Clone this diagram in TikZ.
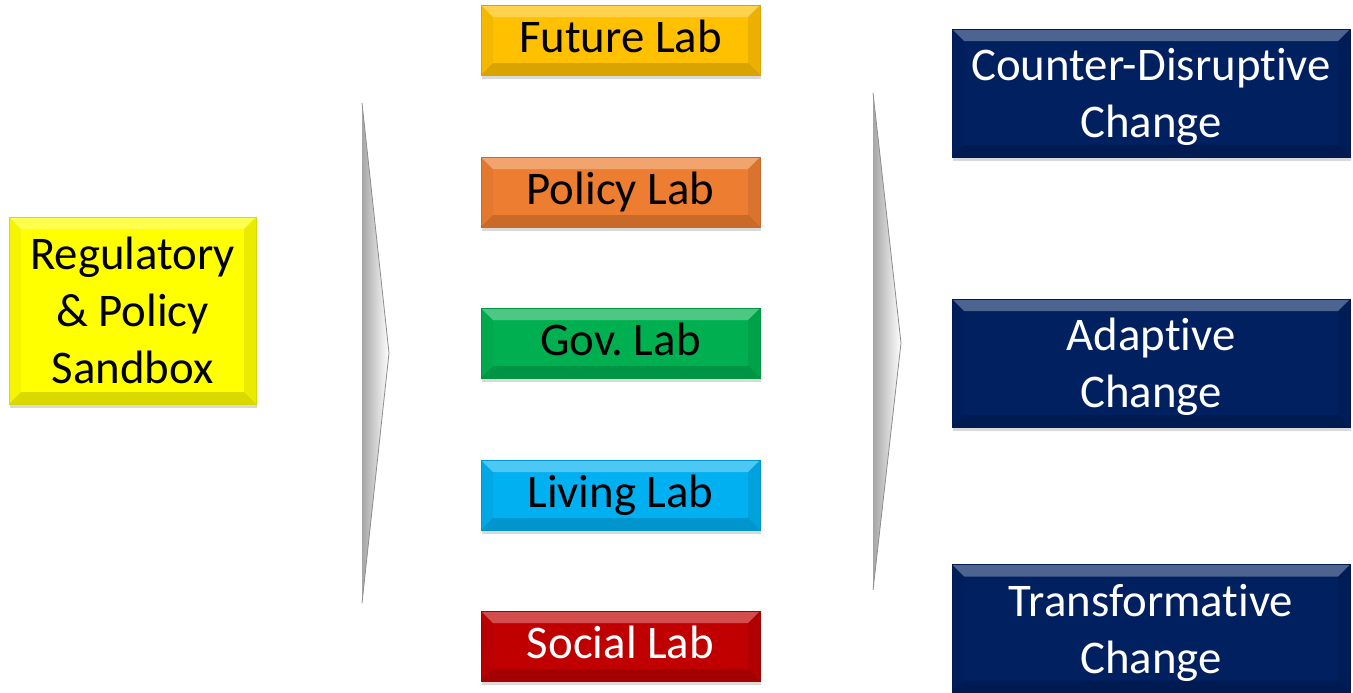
\documentclass[tikz,border=0pt]{standalone}
\usepackage{fontspec}
\setmainfont{Carlito}[Ligatures=NoCommon]
\usetikzlibrary{shadows,positioning}

\definecolor{sandcol}{HTML}{FFFF00}
\definecolor{futurecol}{HTML}{FFC000}
\definecolor{policycol}{HTML}{ED7D31}
\definecolor{govcol}{HTML}{00B050}
\definecolor{livingcol}{HTML}{00B0F0}
\definecolor{socialcol}{HTML}{C00000}
\definecolor{changecol}{HTML}{002060}

\newcommand{\boxfont}{\fontsize{23.4}{28.5}\selectfont}

\tikzset{
  bevel/.style={rectangle,fill=#1,draw=#1!85!black,line width=.3pt,
    inner sep=0pt,align=center,font=\boxfont,
    drop shadow={shadow xshift=.6pt,shadow yshift=-2pt,opacity=.3},
    path picture={
      \path (path picture bounding box.north west) coordinate (bnw)
            (path picture bounding box.south east) coordinate (bse);
      \path (bnw) ++(6pt,-6pt) coordinate (inw)
            (bse) ++(-6pt,6pt) coordinate (ise);
      \fill[white,opacity=.3] (bnw) -- (bse|-bnw) -- (ise|-inw) -- (inw) -- cycle;
      \fill[black,opacity=.04] (bnw) -- (inw) -- (inw|-ise) -- (bnw|-bse) -- cycle;
      \fill[black,opacity=.08] (bse|-bnw) -- (ise|-inw) -- (ise) -- (bse) -- cycle;
      \fill[black,opacity=.15] (bnw|-bse) -- (inw|-ise) -- (ise) -- (bse) -- cycle;
    }},
  labbox/.style={bevel=#1,minimum width=139.5pt,minimum height=35pt,
    text height=17pt,text depth=5pt},
  changebox/.style={bevel=changecol,text=white,minimum width=199pt,minimum height=64pt,
    text depth=0pt},
  chevron/.style={left color=gray!70,right color=white},
}

\begin{document}
\begin{tikzpicture}[x=0.5pt,y=-0.5pt]
\useasboundingbox (0,0) rectangle (1353,692);

% source
\node[bevel=sandcol,minimum width=123.5pt,minimum height=93.5pt] (sandbox) at (132.5,310.5)
  {Regulatory\\\& Policy\\Sandbox};

% labs
\node[labbox=futurecol] (future) at (620.5,40) {Future Lab};
\node[labbox=policycol] (policy) at (620.5,192) {Policy Lab};
\node[labbox=govcol] (gov) at (620.5,343) {Gov.\ Lab};
\node[labbox=livingcol] (living) at (620.5,495) {Living Lab};
\node[labbox=socialcol,text=white] (social) at (620.5,646) {Social Lab};

% kinds of change
\node[changebox] (counter) at (1151,93) {Counter-Disruptive\\Change};
\node[changebox] (adaptive) at (1151,363) {Adaptive\\Change};
\node[changebox] (transform) at (1151,628.5) {Transformative\\Change};

% chevrons
\shade[chevron] (362,103) -- (389,353) -- (362,603) -- cycle;
\draw[gray!90,line width=.4pt] (362,103) -- (389,353) -- (362,603);
\shade[chevron] (873,93) -- (901,343) -- (873,590) -- cycle;
\draw[gray!90,line width=.4pt] (873,93) -- (901,343) -- (873,590);
\end{tikzpicture}
\end{document}
